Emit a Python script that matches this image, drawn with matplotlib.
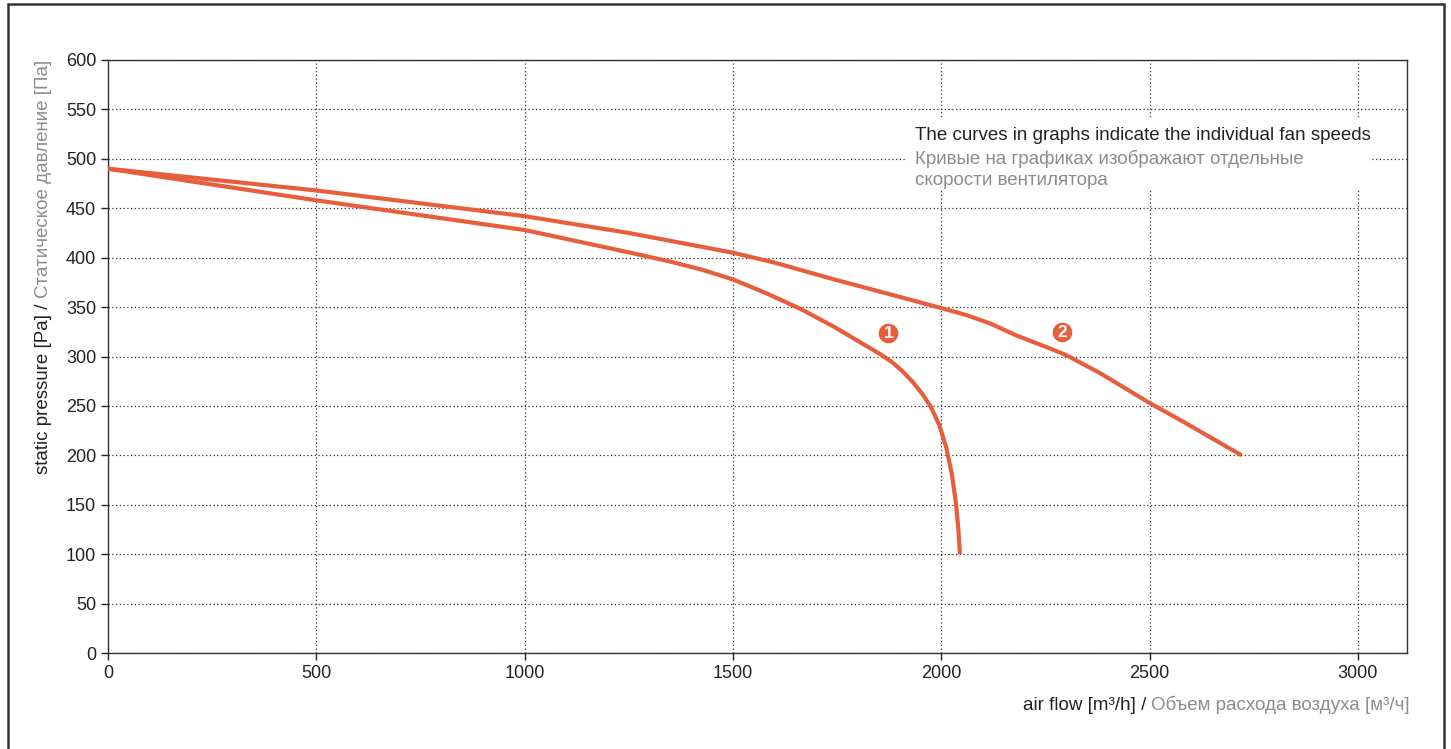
import matplotlib.pyplot as plt
from matplotlib.patches import Rectangle

plt.rcParams["font.family"] = ["Liberation Sans", "DejaVu Sans"]

# fan curves
flow_1 = [0, 250, 500, 766, 1000, 1254, 1350, 1424, 1500, 1580, 1663, 1743, 1823,
          1855, 1880, 1905, 1930, 1955, 1975, 1995, 2012, 2025, 2035, 2041, 2045]
pressure_1 = [490, 474, 458, 442, 428, 405, 396, 388, 378, 364, 348, 330, 310,
              302, 295, 286, 275, 262, 249, 231, 208, 182, 153, 126, 100]

flow_2 = [0, 250, 500, 750, 1000, 1250, 1500, 1600, 1743, 1903, 2000, 2060, 2120,
          2182, 2262, 2302, 2382, 2500, 2581, 2721]
pressure_2 = [490, 479, 468, 455, 442, 425, 405, 395, 378, 360, 349, 342, 333,
              321, 308, 301, 283, 253, 234, 200]

curve_labels = ["1", "2"]
label_pos = [(1873, 324), (2290, 325)]

x_ticks = [0, 500, 1000, 1500, 2000, 2500, 3000]
y_ticks = list(range(0, 601, 50))

orange = "#e85d3c"
gray = "#8c8c8c"
dark = "#222222"
fs = 13.5

W, H = 1451, 749
fig = plt.figure(figsize=(W / 100, H / 100), dpi=100)
ax = fig.add_axes([108 / W, 1 - 653 / H, (1407 - 108) / W, (653 - 60) / H])

ax.plot(flow_1, pressure_1, color=orange, lw=3, solid_capstyle="butt",
        solid_joinstyle="round", zorder=3)
ax.plot(flow_2, pressure_2, color=orange, lw=3, solid_capstyle="butt",
        solid_joinstyle="round", zorder=3)

for lab, (px, py) in zip(curve_labels, label_pos):
    ax.scatter([px], [py], s=200, color=orange, zorder=4, linewidths=0)
    ax.text(px, py - 1, lab, color="white", fontsize=12.5, fontweight="bold",
            ha="center", va="center", zorder=5)

ax.set_xlim(0, 3118)
ax.set_ylim(0, 600)
ax.set_xticks(x_ticks)
ax.set_yticks(y_ticks)
ax.tick_params(direction="out", length=5, width=1, colors=dark, labelsize=13)
ax.grid(True, linestyle=(0, (1, 2)), color="#333333", lw=0.9)
for sp in ax.spines.values():
    sp.set_color("#333333")
    sp.set_linewidth(1)

# note in the upper right, on a white box that hides the grid
ax.add_patch(Rectangle((1913, 467), 3034 - 1913, 542 - 467, facecolor="white",
                       edgecolor="none", zorder=2.5))
ax.text(1937, 524, "The curves in graphs indicate the individual fan speeds",
        fontsize=fs, color=dark, va="center", ha="left", zorder=4)
ax.text(1937, 509, "Кривые на графиках изображают отдельные\nскорости вентилятора",
        fontsize=fs, color=gray, va="top", ha="left", linespacing=1.3, zorder=4)

# two colour axis labels
xl_gray = fig.text(1410 / W, 1 - 710 / H, "Объем расхода воздуха [м³/ч]",
                   fontsize=fs, color=gray, ha="right", va="baseline")
ax.annotate("air flow [m³/h] / ", xy=(0, 1 - 710 / H),
            xycoords=(xl_gray, "figure fraction"), fontsize=fs, color=dark,
            ha="right", va="baseline", annotation_clip=False)

yl_gray = fig.text(44 / W, 1 - 60 / H, "Статическое давление [Па]",
                   fontsize=fs, color=gray, rotation=90, ha="center", va="top")
ax.annotate("static pressure [Pa] / ", xy=(44 / W, 0),
            xycoords=("figure fraction", yl_gray), fontsize=fs, color=dark,
            rotation=90, ha="center", va="top", annotation_clip=False)

# outer frame (its bottom edge is cut off in the reference)
fig.patches.append(Rectangle((8 / W, -10 / H), (1444 - 8) / W, (745 + 10) / H,
                             transform=fig.transFigure, fill=False,
                             edgecolor="#333333", lw=1.8))

fig.savefig("out.png", dpi=100)
